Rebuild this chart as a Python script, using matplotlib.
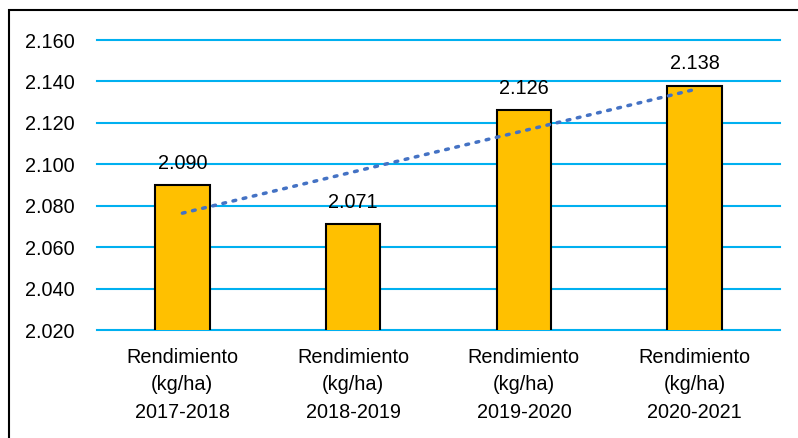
import matplotlib.pyplot as plt
import matplotlib.patches as mpatches
import numpy as np

plt.rcParams['font.family'] = ['Liberation Sans', 'DejaVu Sans']

# data
categories = ['Rendimiento\n(kg/ha)\n2017-2018', 'Rendimiento\n(kg/ha)\n2018-2019',
              'Rendimiento\n(kg/ha)\n2019-2020', 'Rendimiento\n(kg/ha)\n2020-2021']
values = [2090, 2071, 2126, 2138]
yticks = [2020, 2040, 2060, 2080, 2100, 2120, 2140, 2160]


def fmt(v):
    return '{:,}'.format(int(v)).replace(',', '.')


fig = plt.figure(figsize=(7.98, 4.38), dpi=100)
ax = fig.add_axes([97 / 798, 1 - 330 / 438, (780 - 97) / 798, 290 / 438])

x = np.arange(len(values))
ax.bar(x, values, width=0.32, color='#FFC000', edgecolor='black', linewidth=1.5, zorder=3)

# linear trend
slope, intercept = np.polyfit(x, values, 1)
ax.plot(x, slope * x + intercept, linestyle=(0, (0.8, 2.2)), dash_capstyle='round',
        color='#4472C4', linewidth=2.5, zorder=4)

for xi, v in zip(x, values):
    ax.annotate(fmt(v), (xi, v), xytext=(0, 9), textcoords='offset points',
                ha='center', va='bottom', fontsize=14.3)

ax.set_xlim(-0.5, len(values) - 0.5)
ax.set_ylim(2020, 2160)
ax.set_yticks(yticks)
ax.set_yticklabels([fmt(t) for t in yticks], fontsize=14.3)
ax.set_xticks(x)
ax.set_xticklabels(categories, fontsize=14.3, linespacing=1.55)
ax.tick_params(axis='y', length=0, pad=16)
ax.tick_params(axis='x', length=0, pad=13)
ax.yaxis.grid(True, color='#00B0F0', linewidth=1.5, zorder=0)
for gl in ax.get_ygridlines():
    gl.set_clip_on(False)
for s in ax.spines.values():
    s.set_visible(False)

# outer frame
fig.patches.append(mpatches.Rectangle((9 / 798, -0.1), 1.2, 1.1 - 10 / 438,
                                      transform=fig.transFigure, fill=False,
                                      edgecolor='black', linewidth=1.5))

fig.savefig('out.png', dpi=100)
